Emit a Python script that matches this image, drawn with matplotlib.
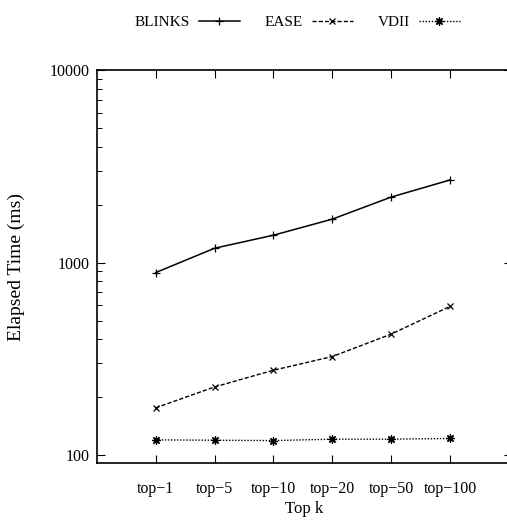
import numpy as np
import matplotlib
matplotlib.use("Agg")
import matplotlib.pyplot as plt
from matplotlib.ticker import LogLocator, NullFormatter, FixedLocator

plt.rcParams['font.family'] = ['Liberation Serif', 'DejaVu Serif']

# ----------------------------
# Data
# ----------------------------
categories = ["top\u22121", "top\u22125", "top\u221210", "top\u221220", "top\u221250", "top\u2212100"]
blinks = [887, 1187, 1387, 1681, 2188, 2685]
ease = [176, 226, 276, 325, 425, 592]
vdii = [120, 119.5, 119, 121, 121, 122]

x = np.arange(len(categories))

# ----------------------------
# Figure
# ----------------------------
fig = plt.figure(figsize=(5.07, 5.30), dpi=100)
# right spine sits just past the image edge, as in the original
ax = fig.add_axes([0.191, 0.1264, 0.8185, 0.7415])

ax.plot(x, blinks, color="black", lw=1.1, ls="-", marker="+", ms=6, mew=0.9, label="BLINKS")
ax.plot(x, ease, color="black", lw=1.0, ls=(0, (3, 1.5)), marker="x", ms=5, mew=0.9, label="EASE")
ax.plot(x, vdii, color="black", lw=1.0, ls=(0, (1, 1.2)), marker=(8, 2, 0), ms=6, mew=0.9, label="VDII")

ax.set_yscale("log")
ax.set_ylim(91, 10000)
ax.set_xlim(-1, 6.05)

ax.set_xticks(x)
ax.set_xticklabels(categories)
ax.yaxis.set_major_locator(FixedLocator([100, 1000, 10000]))
ax.yaxis.set_major_formatter(plt.FuncFormatter(lambda v, p: f"{int(v)}"))
ax.yaxis.set_minor_locator(LogLocator(base=10, subs=np.arange(2, 10)))
ax.yaxis.set_minor_formatter(NullFormatter())

ax.tick_params(axis="both", which="both", direction="in", top=True, right=True, labelsize=11.5)
ax.tick_params(axis="y", which="major", length=6, width=0.8, pad=5)
ax.tick_params(axis="y", which="minor", length=3.5, width=0.7)
ax.tick_params(axis="x", which="major", length=6, width=0.8, pad=13)
ax.tick_params(axis="x", which="minor", top=False, bottom=False)

for s in ax.spines.values():
    s.set_linewidth(1.2)

ax.set_xlabel("Top k", fontsize=12, labelpad=3)
ax.set_ylabel("Elapsed Time (ms)", fontsize=14)
ax.yaxis.set_label_coords(-0.172, 0.5)

fig.legend(loc="center", bbox_to_anchor=(0.586, 0.958), ncol=3, frameon=False,
           markerfirst=False, fontsize=11, handlelength=2.7, handletextpad=0.6,
           columnspacing=1.6)

fig.savefig("out.png", dpi=100, facecolor="white")
